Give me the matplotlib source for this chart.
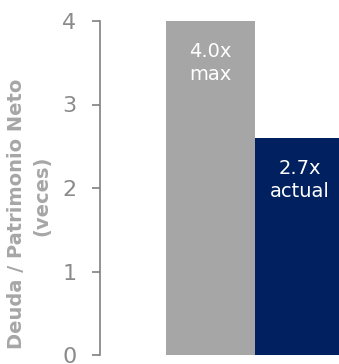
import matplotlib.pyplot as plt

categories = ['max', 'actual']
values = [4.0, 2.6]
value_labels = ['4.0x', '2.7x']
bar_colors = ['#A6A6A6', '#002060']
yticks = [0, 1, 2, 3, 4]

fig = plt.figure(figsize=(3.39, 3.64), dpi=100)
ax = fig.add_axes([100 / 339, 9 / 364, 239 / 339, 334 / 364])

x = list(range(len(categories)))
ax.bar(x, values, width=1.0, color=bar_colors, align='center')

# labels inside the bars, near the top
for xi, v, lab, cat in zip(x, values, value_labels, categories):
    ax.text(xi, v - 0.25, lab + '\n' + cat, ha='center', va='top',
            color='white', fontsize=14, linespacing=1.25)

ax.set_xlim(-1.2416, 1.4438)
ax.set_ylim(0, 4)
ax.set_yticks(yticks)
ax.set_xticks([])

for s in ['top', 'right', 'bottom']:
    ax.spines[s].set_visible(False)
ax.spines['left'].set_color('#808080')
ax.spines['left'].set_linewidth(1.2)
ax.tick_params(axis='y', direction='out', length=6, width=1.2,
               color='#808080', labelcolor='#8a8a8a', labelsize=16, pad=11)

# axis title, two lines placed separately
fig.text(17 / 339, 1 - 214 / 364, 'Deuda / Patrimonio Neto', rotation=90,
         ha='center', va='center', fontsize=14, fontweight='bold',
         color='#A6A6A6')
fig.text(42 / 339, 1 - 196 / 364, '(veces)', rotation=90,
         ha='center', va='center', fontsize=14, fontweight='bold',
         color='#A6A6A6')

fig.savefig('out.png', dpi=100)
